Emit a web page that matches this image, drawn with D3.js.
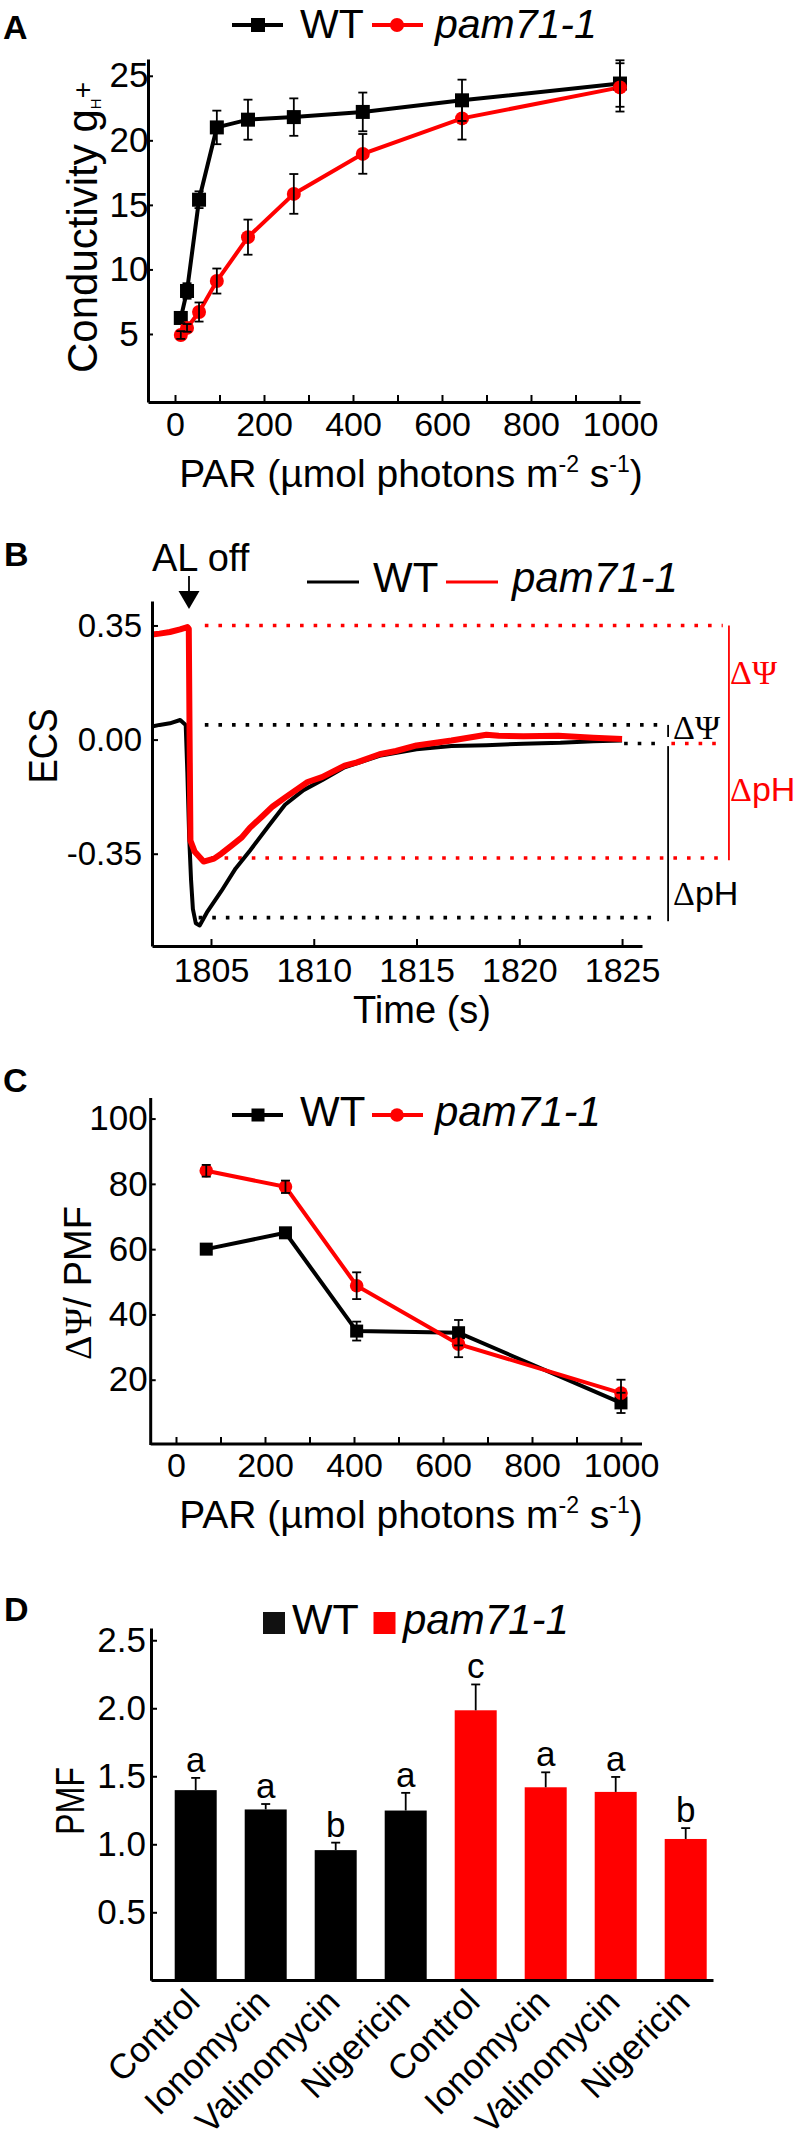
<!DOCTYPE html>
<html><head><meta charset="utf-8">
<script src="https://cdn.jsdelivr.net/npm/d3@7"></script>
<style>
body{margin:0;background:#fff;}
svg text{font-family:"Liberation Sans",Arial,Helvetica,sans-serif;}
</style></head><body>
<svg id="fig" width="797" height="2149"></svg>
<script>
// ---------------- DATA ----------------
// Panel A
const parA      = [13, 27, 54, 94, 164, 267, 422, 645, 1000];
const wtA       = [6.24, 8.33, 15.4, 21.0, 21.6, 21.8, 22.2, 23.1, 24.4];
const wtAerr    = [0.4, 0.6, 0.65, 1.3, 1.55, 1.45, 1.5, 1.6, 1.8];
const mutA      = [4.92, 5.47, 6.7, 9.1, 12.5, 15.85, 18.95, 21.7, 24.1];
const mutAerr   = [0.3, 0.3, 0.74, 0.97, 1.36, 1.54, 1.54, 1.64, 1.87];
const parTicks  = [0,100,200,300,400,500,600,700,800,900,1000];
const parTickLabels = ["0","","200","","400","","600","","800","","1000"];
const yTicksA   = [5,10,15,20,25];

// Panel B (ECS traces)
const tWT_B   = [1802.13,1802.5,1803.0,1803.5,1803.77,1803.85,1803.94,1804.03,1804.12,1804.26,1804.45,1804.8,1805.5,1806.2,1806.9,1807.8,1808.6,1809.5,1810.4,1811.5,1813.2,1815.0,1816.7,1818.4,1820.2,1822.0,1823.6,1825.0];
const ecsWT_B = [0.04,0.045,0.05,0.06,0.045,-0.1,-0.3,-0.43,-0.52,-0.563,-0.57,-0.53,-0.465,-0.395,-0.34,-0.265,-0.2,-0.155,-0.125,-0.085,-0.05,-0.03,-0.02,-0.017,-0.013,-0.01,-0.005,-0.003];
const tMut_B  = [1802.13,1802.5,1803.0,1803.5,1803.85,1803.92,1803.96,1804.0,1804.2,1804.64,1805.15,1805.5,1806.0,1806.5,1806.9,1807.5,1808.0,1808.6,1809.7,1810.4,1811.5,1812.1,1813.2,1814.0,1815.0,1816.7,1818.4,1819.0,1820.2,1821.9,1823.6,1825.0];
const ecsMut_B= [0.322,0.325,0.33,0.338,0.345,0.34,0.0,-0.31,-0.343,-0.374,-0.365,-0.35,-0.325,-0.3,-0.27,-0.235,-0.205,-0.178,-0.13,-0.115,-0.08,-0.07,-0.045,-0.035,-0.018,-0.003,0.015,0.012,0.01,0.012,0.006,0.002];
const tTicksB = [1805,1810,1815,1820,1825];
const tTickLabelsB = ["1805","1810","1815","1820","1825"];
const yTicksB = [-0.35, 0, 0.35];
const yTickLabelsB = ["-0.35","0.00","0.35"];
const alOffTime = 1803.93;
// reference levels: [value, t start, t end]
const refRedB   = [[0.35,1804.7,1829.9],[-0.363,1805.0,1829.9],[-0.012,1827.4,1829.9]];
const refBlackB = [[0.045,1804.7,1826.95],[-0.546,1804.4,1826.85],[-0.012,1825.1,1826.95]];

// Panel C
const parC    = [68, 246, 406, 635, 1000];
const wtC     = [60.0, 65.0, 34.9, 34.4, 12.9];
const wtCerr  = [0.6, 1.2, 2.9, 3.9, 3.1];
const mutC    = [84.0, 79.1, 48.8, 30.9, 15.9];
const mutCerr = [1.8, 1.9, 4.1, 4.0, 4.1];
const yTicksC = [20,40,60,80,100];

// Panel D
const treatments = ["Control","Ionomycin","Valinomycin","Nigericin"];
const wtD      = [1.398, 1.256, 0.957, 1.248];
const wtDerr   = [0.09, 0.04, 0.055, 0.13];
const mutD     = [1.985, 1.419, 1.385, 1.039];
const mutDerr  = [0.19, 0.11, 0.11, 0.08];
const lettersWT  = ["a","a","b","a"];
const lettersMut = ["c","a","a","b"];
const yTicksD = [0.5,1.0,1.5,2.0,2.5];
const yTickLabelsD = ["0.5","1.0","1.5","2.0","2.5"];

// ---------------- DRAWING ----------------
const RED = "#ff0000";
const SANS = '"Liberation Sans", Arial, Helvetica, sans-serif';
const SERIF = '"Liberation Serif", "Times New Roman", serif';
const svg = d3.select("#fig");
svg.append("rect").attr("width",797).attr("height",2149).attr("fill","#fff");

function styleAxis(g, fs){
  g.attr("font-family", SANS).attr("font-size", fs);
  g.select(".domain").attr("stroke","#000").attr("stroke-width",3);
  g.selectAll(".tick line").attr("stroke","#000").attr("stroke-width",2);
  g.selectAll(".tick text").attr("fill","#000");
}
function panelLetter(txt, x, y){
  svg.append("text").attr("x",x).attr("y",y).attr("font-size",34)
    .attr("font-weight","bold").attr("font-family",SANS).text(txt);
}
function errBars(g, xs, ys, es, xs_, ys_, cap, upperOnly){
  xs.forEach((xv,i)=>{
    const x = xs_(xv), y0 = upperOnly ? ys_(ys[i]) : ys_(ys[i]-es[i]), y1 = ys_(ys[i]+es[i]);
    g.append("line").attr("x1",x).attr("x2",x).attr("y1",y0).attr("y2",y1)
      .attr("stroke","#000").attr("stroke-width",1.8);
    g.append("line").attr("x1",x-cap/2).attr("x2",x+cap/2).attr("y1",y1).attr("y2",y1)
      .attr("stroke","#000").attr("stroke-width",1.8);
    if(!upperOnly) g.append("line").attr("x1",x-cap/2).attr("x2",x+cap/2).attr("y1",y0).attr("y2",y0)
      .attr("stroke","#000").attr("stroke-width",1.8);
  });
}
function lineLegend(g, y, baseline, sq, cr, fs){
  g.append("line").attr("x1",232).attr("x2",283).attr("y1",y).attr("y2",y).attr("stroke","#000").attr("stroke-width",4);
  g.append("rect").attr("x",258-sq/2).attr("y",y-sq/2).attr("width",sq).attr("height",sq).attr("fill","#000");
  g.append("text").attr("x",300).attr("y",baseline).attr("font-size",fs).text("WT");
  g.append("line").attr("x1",372).attr("x2",423).attr("y1",y).attr("y2",y).attr("stroke",RED).attr("stroke-width",4);
  g.append("circle").attr("cx",397).attr("cy",y).attr("r",cr).attr("fill",RED);
  g.append("text").attr("x",435).attr("y",baseline).attr("font-size",fs).attr("font-style","italic").text("pam71-1");
}
function parLabel(g, baseline){
  const t = g.append("text").attr("x",411).attr("y",baseline).attr("text-anchor","middle").attr("font-size",39);
  t.append("tspan").text("PAR (µmol photons m");
  t.append("tspan").attr("font-size",23).attr("dy",-15).text("-2");
  t.append("tspan").attr("dy",15).text(" s");
  t.append("tspan").attr("font-size",23).attr("dy",-15).text("-1");
  t.append("tspan").attr("dy",15).text(")");
}

// ===== Panel A =====
{
  const g = svg.append("g");
  panelLetter("A", 3, 39);
  const x = d3.scaleLinear().domain([-60.7,1045]).range([148,640]);
  const y = d3.scaleLinear().domain([-0.27,26.3]).range([402,59]);
  g.append("g").attr("transform","translate(0,402)")
    .call(d3.axisBottom(x).tickValues(parTicks).tickFormat((d,i)=>parTickLabels[i]).tickSize(-7).tickSizeOuter(0).tickPadding(10))
    .call(styleAxis,34);
  const ya = g.append("g").attr("transform","translate(148,0)")
    .call(d3.axisLeft(y).tickValues(yTicksA).tickSize(-5).tickSizeOuter(0).tickPadding(2))
    .call(styleAxis,35);
  ya.selectAll(".tick text").attr("text-anchor","middle").attr("x",-19);
  const line = d3.line().x((d,i)=>x(parA[i])).y(d=>y(d));
  g.append("path").datum(wtA).attr("d",line).attr("fill","none").attr("stroke","#000").attr("stroke-width",4);
  g.append("path").datum(mutA).attr("d",line).attr("fill","none").attr("stroke",RED).attr("stroke-width",4);
  g.selectAll(".sqA").data(wtA).enter().append("rect")
    .attr("x",(d,i)=>x(parA[i])-7).attr("y",d=>y(d)-7).attr("width",14).attr("height",14).attr("fill","#000");
  g.selectAll(".ciA").data(mutA).enter().append("circle")
    .attr("cx",(d,i)=>x(parA[i])).attr("cy",d=>y(d)).attr("r",7).attr("fill",RED);
  errBars(g, parA, wtA, wtAerr, x, y, 9, false);
  errBars(g, parA, mutA, mutAerr, x, y, 9, false);
  lineLegend(g, 25, 38, 14, 7, 41);
  const yl = g.append("text").attr("transform","translate(97,373) rotate(-90)").attr("font-size",42);
  yl.append("tspan").text("Conductivity g");
  yl.append("tspan").attr("font-size",15).attr("dy",4).text("H");
  yl.append("tspan").attr("font-size",28).attr("dy",-9).text("+");
  parLabel(g, 487);
}

// ===== Panel B =====
{
  const g = svg.append("g");
  panelLetter("B", 4, 566);
  const x = d3.scaleLinear().domain([1802.13,1825.97]).range([152,642]);
  const y = d3.scaleLinear().domain([-0.633,0.425]).range([946,601]);
  refBlackB.forEach(r=>{
    g.append("line").attr("x1",x(r[1])).attr("x2",x(r[2])).attr("y1",y(r[0])).attr("y2",y(r[0]))
      .attr("stroke","#000").attr("stroke-width",3.6).attr("stroke-dasharray","3.6,10");
  });
  refRedB.forEach(r=>{
    g.append("line").attr("x1",x(r[1])).attr("x2",x(r[2])).attr("y1",y(r[0])).attr("y2",y(r[0]))
      .attr("stroke",RED).attr("stroke-width",3.6).attr("stroke-dasharray","3.6,10");
  });
  g.append("line").attr("x1",x(1830.2)).attr("x2",x(1830.2)).attr("y1",y(0.35)).attr("y2",y(-0.37)).attr("stroke",RED).attr("stroke-width",1.8);
  g.append("line").attr("x1",x(1827.24)).attr("x2",x(1827.24)).attr("y1",y(-0.02)).attr("y2",y(-0.557)).attr("stroke","#000").attr("stroke-width",1.8);
  g.append("line").attr("x1",x(1827.24)).attr("x2",x(1827.24)).attr("y1",y(0.045)).attr("y2",y(0.008)).attr("stroke","#000").attr("stroke-width",1.8);
  const lbl = (txt, xx, yy, col)=>{
    const t = g.append("text").attr("x",xx).attr("y",yy).attr("font-size",34).attr("fill",col);
    t.append("tspan").attr("font-family",SERIF).text("Δ");
    if(txt==="psi") t.append("tspan").attr("font-family",SERIF).text("Ψ");
    else t.append("tspan").text("pH");
  };
  lbl("psi", 730, 684, RED);
  lbl("psi", 673, 739, "#000");
  lbl("ph", 730, 801, RED);
  lbl("ph", 673, 905, "#000");
  const line = d3.line().x(d=>x(d[0])).y(d=>y(d[1]));
  g.append("path").datum(d3.zip(tWT_B, ecsWT_B)).attr("d",line).attr("fill","none")
    .attr("stroke","#000").attr("stroke-width",4).attr("stroke-linejoin","round");
  g.append("path").datum(d3.zip(tMut_B, ecsMut_B)).attr("d",line).attr("fill","none")
    .attr("stroke",RED).attr("stroke-width",6).attr("stroke-linejoin","round");
  g.append("g").attr("transform","translate(0,946)")
    .call(d3.axisBottom(x).tickValues(tTicksB).tickFormat((d,i)=>tTickLabelsB[i]).tickSize(-7).tickSizeOuter(0).tickPadding(12))
    .call(styleAxis,34);
  g.append("g").attr("transform","translate(152,0)")
    .call(d3.axisLeft(y).tickValues(yTicksB).tickFormat((d,i)=>yTickLabelsB[i]).tickSize(-6).tickSizeOuter(0).tickPadding(10))
    .call(styleAxis,33);
  g.append("text").attr("x",152).attr("y",571).attr("font-size",38).text("AL off");
  const ax = x(alOffTime);
  g.append("line").attr("x1",ax).attr("x2",ax).attr("y1",576).attr("y2",594).attr("stroke","#000").attr("stroke-width",1.8);
  g.append("path").attr("d",`M${ax-10.5},591 L${ax+10.5},591 L${ax},609 Z`).attr("fill","#000");
  g.append("line").attr("x1",307).attr("x2",359).attr("y1",582).attr("y2",582).attr("stroke","#000").attr("stroke-width",3);
  g.append("text").attr("x",373).attr("y",592).attr("font-size",42).text("WT");
  g.append("line").attr("x1",446).attr("x2",498).attr("y1",582).attr("y2",582).attr("stroke",RED).attr("stroke-width",3);
  g.append("text").attr("x",512).attr("y",592).attr("font-size",42).attr("font-style","italic").text("pam71-1");
  g.append("text").attr("transform","translate(57,746) rotate(-90)").attr("text-anchor","middle")
    .attr("font-size",41).attr("textLength",75).attr("lengthAdjust","spacingAndGlyphs").text("ECS");
  g.append("text").attr("x",422).attr("y",1023).attr("text-anchor","middle").attr("font-size",38).text("Time (s)");
}

// ===== Panel C =====
{
  const g = svg.append("g");
  panelLetter("C", 3, 1092);
  const xData = d3.scaleLinear().domain([0,1000]).range([176,621]);
  const y = d3.scaleLinear().domain([0,106.3]).range([1445,1098]);
  g.append("g").attr("transform","translate(0,1444)")
    .call(d3.axisBottom(xData).tickValues(parTicks).tickFormat((d,i)=>parTickLabels[i]).tickSize(-7).tickSizeOuter(0).tickPadding(9))
    .call(styleAxis,34)
    .call(a=>a.select(".domain").attr("d","M150.7,0H642"));
  g.append("g").attr("transform","translate(150.7,0)")
    .call(d3.axisLeft(y).tickValues(yTicksC).tickSize(-5).tickSizeOuter(0).tickPadding(3))
    .call(styleAxis,35)
    .call(a=>a.select(".domain").attr("d","M0,1445V1098"));
  const line = d3.line().x((d,i)=>xData(parC[i])).y(d=>y(d));
  g.append("path").datum(wtC).attr("d",line).attr("fill","none").attr("stroke","#000").attr("stroke-width",4);
  g.append("path").datum(mutC).attr("d",line).attr("fill","none").attr("stroke",RED).attr("stroke-width",4);
  g.selectAll(".sqC").data(wtC).enter().append("rect")
    .attr("x",(d,i)=>xData(parC[i])-6.5).attr("y",d=>y(d)-6.5).attr("width",13).attr("height",13).attr("fill","#000");
  g.selectAll(".ciC").data(mutC).enter().append("circle")
    .attr("cx",(d,i)=>xData(parC[i])).attr("cy",d=>y(d)).attr("r",6.8).attr("fill",RED);
  errBars(g, parC, wtC, wtCerr, xData, y, 9, false);
  errBars(g, parC, mutC, mutCerr, xData, y, 9, false);
  lineLegend(g, 1115, 1126, 13, 6.8, 42);
  const yl = g.append("text").attr("transform","translate(91,1283) rotate(-90)").attr("text-anchor","middle").attr("font-size",38);
  yl.append("tspan").attr("font-family",SERIF).text("ΔΨ");
  yl.append("tspan").text("/ PMF");
  parLabel(g, 1528);
}

// ===== Panel D =====
{
  const g = svg.append("g");
  panelLetter("D", 4, 1621);
  const cats = d3.range(8);
  const labels = treatments.concat(treatments);
  const vals = wtD.concat(mutD), errs = wtDerr.concat(mutDerr), lets = lettersWT.concat(lettersMut);
  const x = d3.scaleBand().domain(cats).range([151,713]).paddingInner(0.4).paddingOuter(0.2143).align(0.79);
  const y = d3.scaleLinear().domain([0,2.59]).range([1980.3,1628]);
  g.selectAll(".bar").data(vals).enter().append("rect")
    .attr("x",(d,i)=>x(i)).attr("y",d=>y(d)).attr("width",x.bandwidth()).attr("height",d=>y(0)-y(d))
    .attr("fill",(d,i)=>i<4?"#000":RED);
  const centers = cats.map(i=>x(i)+x.bandwidth()/2);
  const cx = d3.scaleIdentity();
  errBars(g, centers, vals, errs, cx, y, 9, true);
  g.selectAll(".let").data(lets).enter().append("text")
    .attr("x",(d,i)=>centers[i]).attr("y",(d,i)=>y(vals[i]+errs[i])-6)
    .attr("text-anchor","middle").attr("font-size",35).text(d=>d);
  g.append("g").attr("transform","translate(0,1980)")
    .call(d3.axisBottom(x).tickSize(0).tickFormat(""))
    .call(styleAxis,34);
  g.append("g").attr("transform","translate(151,0)")
    .call(d3.axisLeft(y).tickValues(yTicksD).tickFormat((d,i)=>yTickLabelsD[i]).tickSize(-6).tickSizeOuter(0).tickPadding(5))
    .call(styleAxis,35);
  labels.forEach((l,i)=>{
    g.append("text").attr("transform",`translate(${centers[i]+6},2004) rotate(-45)`)
      .attr("text-anchor","end").attr("font-size",35).text(l);
  });
  g.append("rect").attr("x",263).attr("y",1612).attr("width",22).attr("height",22).attr("fill","#111");
  g.append("text").attr("x",292).attr("y",1634).attr("font-size",43).text("WT");
  g.append("rect").attr("x",373.5).attr("y",1612).attr("width",22).attr("height",22).attr("fill",RED);
  g.append("text").attr("x",403).attr("y",1634).attr("font-size",42).attr("font-style","italic").text("pam71-1");
  g.append("text").attr("transform","translate(83.5,1801) rotate(-90)").attr("text-anchor","middle")
    .attr("font-size",41).attr("textLength",68).attr("lengthAdjust","spacingAndGlyphs").text("PMF");
}
</script>
</body></html>
